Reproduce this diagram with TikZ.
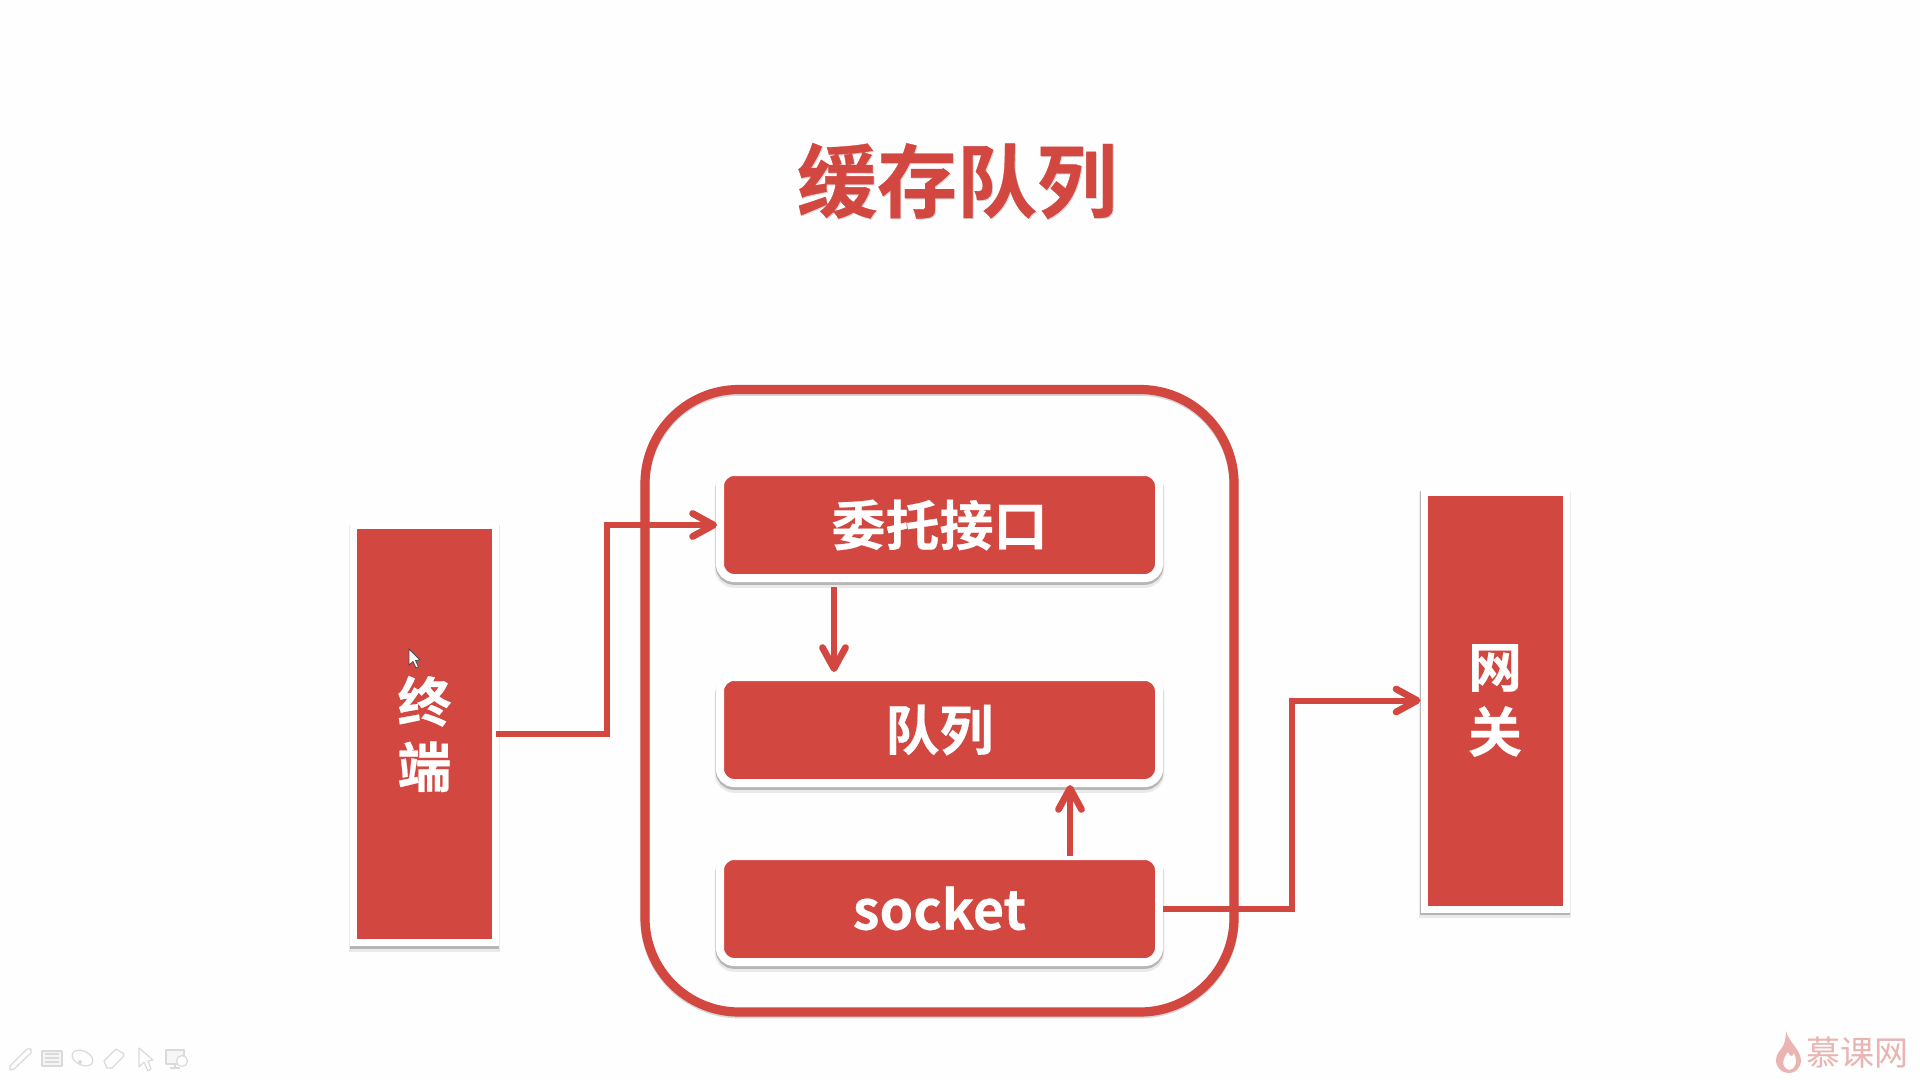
\documentclass[tikz,border=0pt]{standalone}
\usepackage{fontspec}
\newfontfamily\cjkbold[FakeBold=0.4]{Noto Sans CJK SC Bold}
\newfontfamily\cjkreg{Noto Sans CJK SC}
\usetikzlibrary{arrows.meta,calc}
\definecolor{brandred}{HTML}{D2473F}
\definecolor{paper}{HTML}{FEFEFE}
\definecolor{wm}{HTML}{E9B4B1}
\definecolor{tool}{HTML}{DADADA}
\tikzset{
  softshadow/.style={
    preaction={draw=black,draw opacity=.08,line width=#1+1.4pt,transform canvas={yshift=-2.2pt}},
    preaction={draw=black,draw opacity=.22,line width=#1+.4pt,transform canvas={yshift=-1.2pt}}},
  redblock/.style={rectangle,fill=brandred,draw=white,text=white,
    align=center,inner sep=0pt,font=\cjkbold\fontsize{27}{32.5}\selectfont},
  barbox/.style={softshadow=3.5pt,redblock,line width=3.5pt,sharp corners},
  roundbox/.style={softshadow=4pt,redblock,line width=4pt,rounded corners=7pt,minimum width=219.5pt,minimum height=53pt},
  holder/.style={rectangle,draw=brandred,line width=4.6pt,rounded corners=47pt,
    minimum width=294.5pt,minimum height=311.25pt,inner sep=0pt},
  holdershade/.style={holder,draw=black!50,draw opacity=.3},
  flow/.style={draw=brandred,line width=3pt,line cap=butt,line join=miter,
    -{Straight Barb[length=10.5pt,width=11.5pt,line width=3.4pt,round]}},
  toolicon/.style={draw=tool,line width=.6pt,line join=round},
}
\begin{document}
\begin{tikzpicture}[x=0.5pt,y=-0.5pt]
\useasboundingbox[fill=paper] (0,0) rectangle (1920,1080);

\node[font=\cjkbold\fontsize{40}{44}\selectfont,text=black!40,opacity=.3] (titleshade) at (958,182) {缓存队列};
\node[font=\cjkbold\fontsize{40}{44}\selectfont,text=brandred] (title) at (957,181) {缓存队列};

\node[holdershade] (cacheshade) at (939.5,702.5) {};
\node[holder] (cache) at (939.5,700.75) {};

\node[barbox,minimum width=71pt,minimum height=208.5pt] (term) at (424.5,734) {终\\端};
\node[barbox,minimum width=71pt,minimum height=208.5pt] (gate) at (1495,700.5) {网\\关};

\node[roundbox] (iface) at (939.5,525) {委托接口};
\node[roundbox] (queue) at (939.5,730) {队列};
\node[roundbox] (sock) at (939.5,909) {\raisebox{1pt}{socket}};

\coordinate (t) at ($(term.east)+(-3,0)$);
\coordinate (a) at ($(iface.west)+(1,0)$);
\draw[flow] (t) -- ++(111,0) coordinate (b) -- (b |- a) -- (a);
\coordinate (c1) at ($(iface.south)+(-105.5,5)$);
\coordinate (c2) at ($(queue.north)+(-105.5,-1)$);
\draw[flow] (c1) -- (c2);
\coordinate (d1) at ($(sock.north)+(130.5,4)$);
\coordinate (d2) at ($(queue.south)+(130.5,-2)$);
\draw[flow] (d1) -- (d2);
\draw[flow] (sock.east) -- ++(129,0) coordinate (f) -- (f |- gate.west) -- (gate.west);

% mouse pointer
\path[draw=black!70,fill=white,line width=.4pt] (409,649) -- (409,665) -- (413,661.5) -- (416,668) -- (418.5,667) -- (415.5,660.5) -- (420,660) -- cycle;

% toolbar
\draw[toolicon] (10,1066) -- (27,1049) -- (31,1049) -- (31,1053) -- (14,1069) -- (10,1070) -- cycle;
\draw[toolicon,fill=tool!30] (42,1051) rectangle (62,1066);
\draw[toolicon] (45,1054) -- (59,1054) (45,1058) -- (59,1058) (45,1062) -- (59,1062);
\draw[toolicon,rotate around={-25:(82.5,1058)}] (82.5,1058) ellipse [x radius=11,y radius=7];
\draw[toolicon,fill=tool] (80,1062) circle [radius=1.5];
\draw[toolicon] (104,1061) -- (116,1049) -- (124,1054) -- (123,1057) -- (112,1068) -- (107,1068) -- cycle;
\draw[toolicon] (139,1048) -- (139,1067) -- (144,1062) -- (148,1071) -- (151,1069) -- (148,1061) -- (153,1060) -- cycle;
\draw[toolicon,fill=tool!25] (166,1050) rectangle (184,1064);
\draw[toolicon] (175,1064) -- (175,1068) (170,1068) -- (180,1068);
\draw[toolicon,fill=white] (182,1061) circle [radius=5.5];

% watermark
\path[fill=wm,even odd rule] (1786,1031)
  .. controls (1788,1041) and (1801,1050) .. (1801,1061)
  .. controls (1800,1069) and (1795,1073) .. (1789,1073)
  .. controls (1782,1073) and (1776,1068) .. (1776,1060)
  .. controls (1776,1053) and (1781,1050) .. (1783,1046)
  .. controls (1785,1042) and (1786,1037) .. (1786,1031) -- cycle
  (1789,1070)
  .. controls (1796,1069) and (1798,1062) .. (1794,1053)
  .. controls (1792,1058) and (1790,1056) .. (1788,1052)
  .. controls (1783,1058) and (1780,1067) .. (1789,1070) -- cycle;
\node[font=\cjkreg\fontsize{17}{18}\selectfont,text=wm,inner sep=0pt] (brand) at (1857,1053) {慕课网};
\end{tikzpicture}
\end{document}
